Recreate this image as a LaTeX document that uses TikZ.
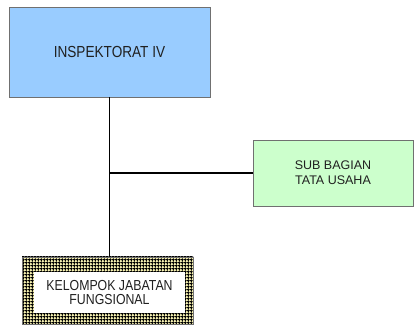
\documentclass[tikz,border=0pt]{standalone}
\usepackage{fontspec}
\usepackage{tikz}
\usetikzlibrary{positioning,patterns.meta}
\newfontfamily\narrowsans[FakeStretch=0.85]{Liberation Sans}
\newfontfamily\plainsans{Liberation Sans}
\definecolor{inspblue}{HTML}{99CCFF}
\definecolor{subgreen}{HTML}{CCFFCC}
\definecolor{klpcream}{HTML}{FAF5B4}
\definecolor{boxline}{HTML}{707070}
\definecolor{txtgray}{HTML}{202020}
\tikzdeclarepattern{
  name=boxgrid,
  type=uncolored,
  bounding box={(0pt,0pt) and (2.8pt,2.8pt)},
  tile size={(2.8pt,2.8pt)},
  code={
    \pgfsetlinewidth{1.1pt}
    \pgfpathmoveto{\pgfpoint{0pt}{1.4pt}}\pgfpathlineto{\pgfpoint{2.8pt}{1.4pt}}
    \pgfpathmoveto{\pgfpoint{1.4pt}{0pt}}\pgfpathlineto{\pgfpoint{1.4pt}{2.8pt}}
    \pgfusepath{stroke}
  }
}

\begin{document}
\begin{tikzpicture}[x=1pt, y=-1pt,
  orgbox/.style={draw=boxline, line width=0.9pt, inner sep=2pt, align=center, text=txtgray},
  shade/.style={preaction={fill=black!35, transform canvas={xshift=1pt, yshift=-1pt}}},
  conn/.style={line width=1.8pt, black}]
  \useasboundingbox (0,0) rectangle (416,329);
  % kepala
  \node[orgbox, shade, fill=inspblue, minimum width=201pt, minimum height=90pt,
    font=\narrowsans\fontsize{16}{18}\selectfont] (insp) at (109.5,52) {INSPEKTORAT IV};
  % staf
  \node[orgbox, shade, fill=subgreen, minimum width=160pt, minimum height=66pt,
    font=\plainsans\fontsize{12.5}{15}\selectfont] (sub) at (333,173) {SUB BAGIAN\\TATA USAHA};
  % fungsional
  \node[draw=boxline, line width=0.8pt, preaction={fill=klpcream}, pattern=boxgrid,
    minimum width=171pt, minimum height=67pt] (klp) at (107.5,290.5) {};
  \node[fill=white, align=center, text=txtgray, minimum width=151pt, minimum height=41pt,
    font=\narrowsans\fontsize{14.5}{14}\selectfont] (klptxt) at (109.5,292.5) {KELOMPOK JABATAN\\FUNGSIONAL};
  \coordinate (junc) at (insp.south |- sub.west);
  \draw[conn] (insp.south) -- (insp.south |- klp.north);
  \draw[conn] (junc) -- (sub.west);
\end{tikzpicture}
\end{document}
